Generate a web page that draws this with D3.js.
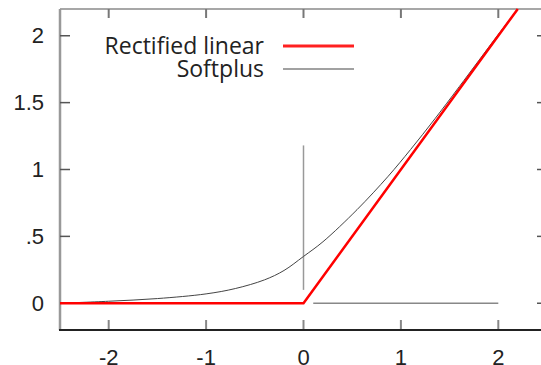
<!DOCTYPE html>
<html>
<head>
<meta charset="utf-8">
<script src="https://cdn.jsdelivr.net/npm/d3@7"></script>
<style>
  body { margin: 0; background: #fff; }
  svg { display: block; }
  .tick_label { font-family: "Liberation Sans", Arial, sans-serif; font-size: 22px; fill: #222; }
  .legend_label { font-family: "Open Sans", sans-serif; font-size: 23px; fill: #222; }
</style>
</head>
<body>
<div id="chart"></div>
<script>

// data

var xTicks = [-2, -1, 0, 1, 2],
    yTicks = [0, 0.5, 1, 1.5, 2],
    yTickLabels = ["0", ".5", "1", "1.5", "2"];

var seriesNames = ["Rectified linear", "Softplus"];

var reluX = [-2.5, 0, 2.2],
    reluY = [0, 0, 2.2];

var softX = [-2.5, -2, -1.5, -1, -0.7, -0.4, -0.2, 0, 0.2, 0.55, 0.87, 1.1, 1.35, 1.6, 2, 2.2],
    softY = [0, 0.015, 0.035, 0.07, 0.11, 0.175, 0.245, 0.35, 0.46, 0.7, 0.95, 1.15, 1.38, 1.62, 2.01, 2.2];

// the stray grey axis pieces
var vGuide = [[0, 0.1], [0, 1.18]],
    hGuide = [[0.1, 0], [2, 0]];

// sizes

var width = 541,
    height = 365,
    plotLeft = 60,
    plotRight = 547,
    plotTop = 9,
    plotBottom = 330;

var xScale = d3.scaleLinear().domain([-2.5, 2.5]).range([plotLeft, plotRight]);
var yScale = d3.scaleLinear().domain([-0.2, 2.2]).range([plotBottom, plotTop]);

var svg = d3.select("#chart")
  .append("svg")
    .attr("width", width)
    .attr("height", height);

// frame: top border and left axis grey, bottom axis dark

svg.append("line")
  .attr("x1", plotLeft).attr("x2", plotRight)
  .attr("y1", plotTop).attr("y2", plotTop)
  .attr("stroke", "#8a8a8a").attr("stroke-width", 1.5);

svg.append("line")
  .attr("x1", plotLeft).attr("x2", plotLeft)
  .attr("y1", plotTop).attr("y2", plotBottom)
  .attr("stroke", "#999").attr("stroke-width", 2.5);

svg.append("line")
  .attr("x1", plotRight).attr("x2", plotRight)
  .attr("y1", plotTop).attr("y2", plotBottom)
  .attr("stroke", "#333").attr("stroke-width", 1.5);

// ticks, drawn inward on all four sides

svg.selectAll(".xtick_bottom")
  .data(xTicks)
  .enter()
  .append("line")
    .attr("class", "xtick_bottom")
    .attr("x1", function(d) { return xScale(d); })
    .attr("x2", function(d) { return xScale(d); })
    .attr("y1", plotBottom)
    .attr("y2", plotBottom - 10)
    .attr("stroke", "#888")
    .attr("stroke-width", 2);

svg.selectAll(".xtick_top")
  .data(xTicks)
  .enter()
  .append("line")
    .attr("class", "xtick_top")
    .attr("x1", function(d) { return xScale(d); })
    .attr("x2", function(d) { return xScale(d); })
    .attr("y1", plotTop)
    .attr("y2", plotTop + 9)
    .attr("stroke", "#777")
    .attr("stroke-width", 2);

svg.selectAll(".ytick_left")
  .data(yTicks)
  .enter()
  .append("line")
    .attr("class", "ytick_left")
    .attr("x1", plotLeft)
    .attr("x2", plotLeft + 10)
    .attr("y1", function(d) { return yScale(d); })
    .attr("y2", function(d) { return yScale(d); })
    .attr("stroke", "#555")
    .attr("stroke-width", 1.5);

svg.selectAll(".ytick_right")
  .data(yTicks)
  .enter()
  .append("line")
    .attr("class", "ytick_right")
    .attr("x1", plotRight)
    .attr("x2", plotRight - 10)
    .attr("y1", function(d) { return yScale(d); })
    .attr("y2", function(d) { return yScale(d); })
    .attr("stroke", "#555")
    .attr("stroke-width", 1.5);

svg.append("line")
  .attr("x1", plotLeft - 1).attr("x2", plotRight)
  .attr("y1", plotBottom).attr("y2", plotBottom)
  .attr("stroke", "#222").attr("stroke-width", 2);

// tick labels

svg.selectAll(".xlabel")
  .data(xTicks)
  .enter()
  .append("text")
    .attr("class", "tick_label")
    .attr("x", function(d) { return xScale(d); })
    .attr("y", plotBottom + 35)
    .attr("text-anchor", "middle")
    .text(function(d) { return d; });

svg.selectAll(".ylabel")
  .data(yTicks)
  .enter()
  .append("text")
    .attr("class", "tick_label")
    .attr("x", 44)
    .attr("y", function(d) { return yScale(d); })
    .attr("dy", "0.35em")
    .attr("text-anchor", "end")
    .text(function(d, i) { return yTickLabels[i]; });

// grey guide pieces at zero

var guideLine = d3.line()
  .x(function(d) { return xScale(d[0]); })
  .y(function(d) { return yScale(d[1]); });

svg.append("path")
  .attr("d", guideLine(vGuide))
  .attr("fill", "none")
  .attr("stroke", "#999")
  .attr("stroke-width", 1.5);

svg.append("path")
  .attr("d", guideLine(hGuide))
  .attr("fill", "none")
  .attr("stroke", "#888")
  .attr("stroke-width", 1.5);

// series

var softData = softX.map(function(x, i) { return [x, softY[i]]; }),
    reluData = reluX.map(function(x, i) { return [x, reluY[i]]; });

svg.append("path")
  .attr("d", d3.line()
    .x(function(d) { return xScale(d[0]); })
    .y(function(d) { return yScale(d[1]); })
    .curve(d3.curveCatmullRom)(softData))
  .attr("fill", "none")
  .attr("stroke", "#444")
  .attr("stroke-width", 1);

svg.append("path")
  .attr("d", guideLine(reluData))
  .attr("fill", "none")
  .attr("stroke", "#ff0000")
  .attr("stroke-width", 2.5);

// legend

var legendY = [46, 69],
    legendColors = ["#ff2020", "#444"],
    legendWidths = [3, 1.2];

svg.selectAll(".legend_label")
  .data(seriesNames)
  .enter()
  .append("text")
    .attr("class", "legend_label")
    .attr("x", 264)
    .attr("y", function(d, i) { return legendY[i]; })
    .attr("dy", "0.35em")
    .attr("text-anchor", "end")
    .text(function(d) { return d; });

svg.selectAll(".legend_line")
  .data(seriesNames)
  .enter()
  .append("line")
    .attr("class", "legend_line")
    .attr("x1", 283)
    .attr("x2", 354)
    .attr("y1", function(d, i) { return legendY[i]; })
    .attr("y2", function(d, i) { return legendY[i]; })
    .attr("stroke", function(d, i) { return legendColors[i]; })
    .attr("stroke-width", function(d, i) { return legendWidths[i]; });

</script>
</body>
</html>
